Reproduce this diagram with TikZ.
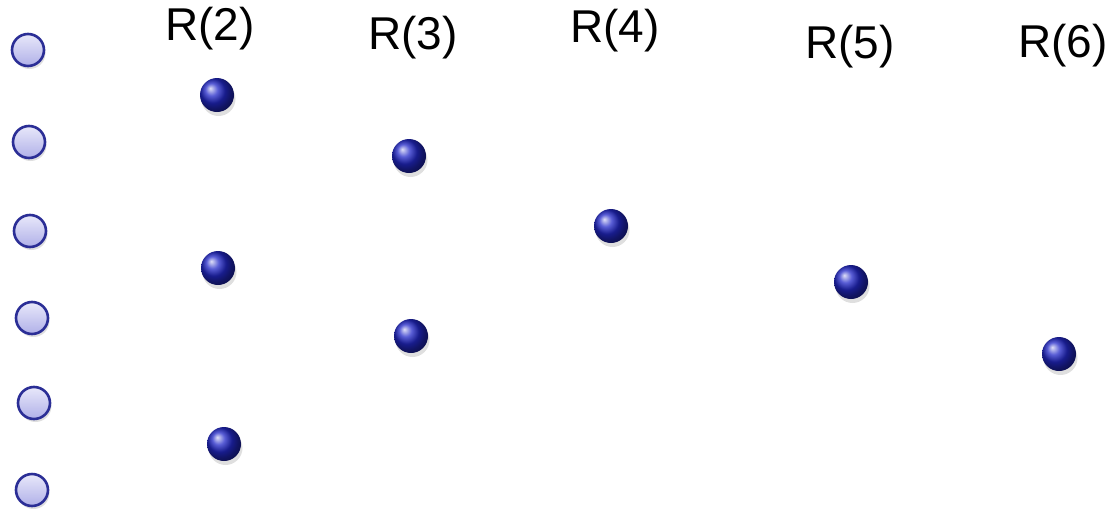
\documentclass[tikz,border=0pt]{standalone}
\usepackage{fontspec}
\setmainfont{Liberation Sans}
\usetikzlibrary{shadows}
\definecolor{rim}{HTML}{2B2E96}
\definecolor{lighttop}{HTML}{E8E8FA}
\definecolor{lightbot}{HTML}{B0B0E8}
\definecolor{ballc}{HTML}{2228C8}
\tikzset{
  empty/.style={circle, minimum size=32pt, inner sep=0pt, draw=rim, line width=2.6pt,
    top color=lighttop, bottom color=lightbot,
    drop shadow={shadow xshift=1.5pt, shadow yshift=-3pt, opacity=0.25}},
  full/.style={circle, minimum size=34pt, inner sep=0pt, shading=ball, ball color=ballc,
    drop shadow={shadow xshift=1.5pt, shadow yshift=-4pt, opacity=0.25}},
  lab/.style={font=\fontsize{46}{50}\selectfont, inner sep=0pt}
}
\begin{document}
\begin{tikzpicture}[x=1pt,y=-1pt]
\useasboundingbox (0,0) rectangle (1112,509);
\node[empty] (e1) at (28,50) {};
\node[empty] (e2) at (29,142) {};
\node[empty] (e3) at (30,231) {};
\node[empty] (e4) at (32,318) {};
\node[empty] (e5) at (34,403) {};
\node[empty] (e6) at (32,490) {};
\node[full] (a1) at (217,95) {};
\node[full] (a2) at (218,268) {};
\node[full] (a3) at (224,444) {};
\node[full] (b1) at (409,156) {};
\node[full] (b2) at (411,336) {};
\node[full] (c1) at (611,226) {};
\node[full] (d1) at (851,282) {};
\node[full] (f1) at (1059,354) {};
\node[lab] (l2) at (210,29) {R(2)};
\node[lab] (l3) at (413,38) {R(3)};
\node[lab] (l4) at (615,31) {R(4)};
\node[lab] (l5) at (850,47) {R(5)};
\node[lab] (l6) at (1063,46) {R(6)};
\end{tikzpicture}
\end{document}
